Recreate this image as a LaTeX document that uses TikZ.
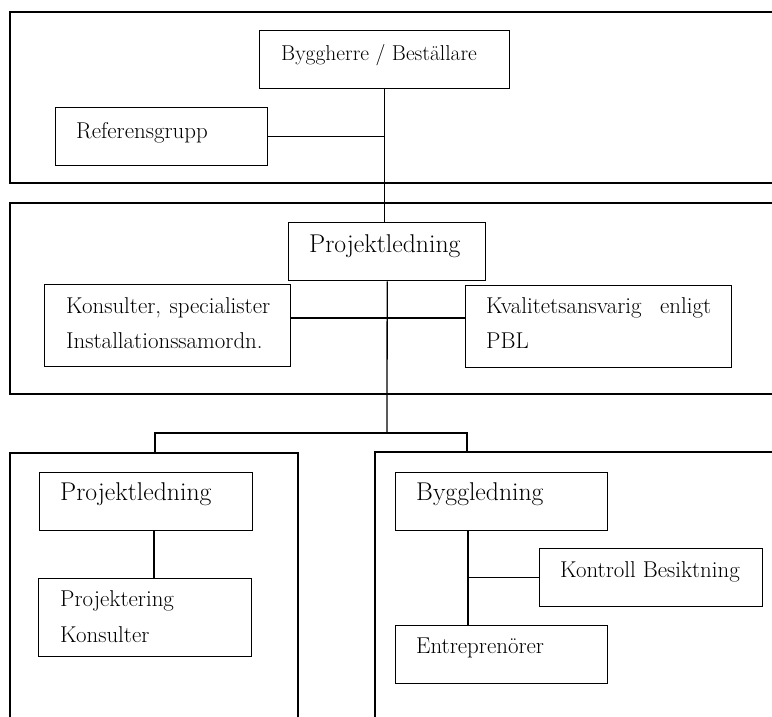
\documentclass[tikz,border=0pt]{standalone}
\usepackage{fontspec}
\begin{document}
\begin{tikzpicture}[x=1pt,y=-1pt,
  frame/.style={draw=black, line width=1.4pt},
  box/.style={draw=black, line width=1.4pt, rectangle, inner sep=0pt, anchor=north west},
  link/.style={draw=black, line width=1.3pt},
  txtS/.style={anchor=base west, inner sep=0pt, font=\fontsize{21.5}{26}\selectfont},
  txtM/.style={anchor=base west, inner sep=0pt, font=\fontsize{22.9}{27}\selectfont},
  txtL/.style={anchor=base west, inner sep=0pt, font=\fontsize{25.7}{30}\selectfont}]
\useasboundingbox (0,0) rectangle (772,716);
\clip (0,0) rectangle (772,716);

% Group frames (open to the right / bottom)
\draw[frame] (790,12) -- (10,12) -- (10,183) -- (790,183);
\draw[frame] (790,203) -- (10,203) -- (10,394) -- (790,394);
\draw[frame] (10,730) -- (10,453) -- (298,453) -- (298,730);
\draw[frame] (375,730) -- (375,452) -- (790,452);

% Client level
\node[box, minimum width=250pt, minimum height=58pt] (byg) at (259,30) {};
\node[txtS] (bygt) at (281,60) {Byggherre / Beställare};
\node[box, minimum width=212pt, minimum height=58pt] (ref) at (55,107) {};
\node[txtM] (reft) at (76,138) {Referensgrupp};

% Project management level
\node[box, minimum width=197pt, minimum height=58pt] (pl) at (288,222) {};
\node[txtL] (plt) at (309,252) {Projektledning};
\node[box, minimum width=246pt, minimum height=82pt] (kon) at (44,284) {};
\node[txtM] (kont1) at (66,313) {\makebox[204pt][s]{Konsulter, specialister}};
\node[txtM] (kont2) at (66,348) {Installationssamordn.};
\node[box, minimum width=266pt, minimum height=82pt] (kva) at (465,285) {};
\node[txtM] (kvat1) at (486,313) {\makebox[225pt][s]{Kvalitetsansvarig enligt}};
\node[txtM] (kvat2) at (486,348) {PBL};

% Design branch
\node[box, minimum width=213pt, minimum height=58pt] (pl2) at (39,472) {};
\node[txtL] (pl2t) at (60,500) {Projektledning};
\node[box, minimum width=213pt, minimum height=78pt] (pjk) at (38,578) {};
\node[txtM] (pjkt1) at (60,606) {Projektering};
\node[txtM] (pjkt2) at (60,642) {Konsulter};

% Construction branch
\node[box, minimum width=212pt, minimum height=58pt] (bl) at (395,472) {};
\node[txtL] (blt) at (416,500) {Byggledning};
\node[box, minimum width=223pt, minimum height=58pt] (kb) at (539,548) {};
\node[txtM] (kbt) at (560,577) {Kontroll Besiktning};
\node[box, minimum width=212pt, minimum height=58pt] (ent) at (395,625) {};
\node[txtM] (entt) at (416,653) {Entreprenörer};

% Connector helper points
\coordinate (mid) at (387,318);
\coordinate (split) at (387,433);
\coordinate (ltop) at (155,453);
\coordinate (rtop) at (467,453);
\coordinate (lstem) at (154,0);
\coordinate (rstem) at (468,0);

% Connectors
\draw[link] (byg.south) -- (byg.south |- pl.north);
\draw[link] (ref.east) -- (ref.east -| byg.south);
\draw[link] (pl.south) -- (split);
\draw[link] (kon.east |- mid) -- (kva.west |- mid);
\draw[link] (ltop) |- (split) -| (rtop);
\draw[link] (pl2.south -| lstem) -- (pjk.north -| lstem);
\draw[link] (bl.south -| rstem) -- (ent.north -| rstem);
\draw[link] (kb.west) -- (kb.west -| rstem);
\end{tikzpicture}
\end{document}
